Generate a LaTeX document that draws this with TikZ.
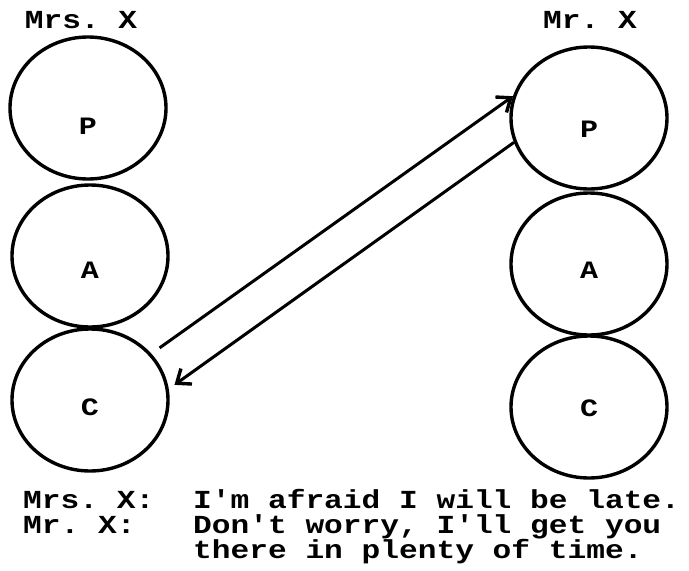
\documentclass[tikz,border=0pt]{standalone}
\usepackage{fontspec}
\setmonofont[FakeStretch=1.2]{Liberation Mono}
\usetikzlibrary{arrows.meta,shapes.geometric}
\tikzset{
  egostate/.style={ellipse, draw=black, line width=3.4pt, minimum width=156pt, minimum height=142pt, inner sep=0pt},
  letter/.style={font=\ttfamily\bfseries\fontsize{25}{25}\selectfont, inner sep=0pt},
  person/.style={font=\ttfamily\bfseries\fontsize{26}{25}\selectfont, inner sep=0pt, anchor=base},
  speech/.style={font=\ttfamily\bfseries\fontsize{26}{25}\selectfont, inner sep=0pt, anchor=base west},
  arrow/.style={-{Straight Barb[length=12pt, width=19pt, line width=3.4pt]}, line width=3pt}
}

\begin{document}
\begin{tikzpicture}[x=1pt, y=-1pt]
  \useasboundingbox (0,0) rectangle (689,571);
  % the two people, each a stack of P, A and C
  \node[person] (mrs) at (81,28) {Mrs. X};
  \node[person] (mr) at (590,28) {Mr. X};
  \node[egostate, label={[letter, yshift=-18pt]center:P}] (mrsP) at (88,108) {};
  \node[egostate, label={[letter, yshift=-14pt]center:A}] (mrsA) at (90,256) {};
  \node[egostate, label={[letter, yshift=-7pt]center:C}] (mrsC) at (90,400) {};
  \node[egostate, label={[letter, yshift=-11pt]center:P}] (mrP) at (589,118) {};
  \node[egostate, label={[letter, yshift=-6pt]center:A}] (mrA) at (589,264) {};
  \node[egostate, label={[letter, yshift=-1pt]center:C}] (mrC) at (589,407) {};
  % the exchange
  \draw[arrow, shorten <=10pt] (mrsC.37) -- (mrP.164);
  \draw[arrow, shorten >=7pt] (mrP.198) -- (mrsC.8);
  % the dialogue
  \node[speech] (who1) at (23,508) {Mrs. X:};
  \node[speech] (who2) at (23,533) {Mr. X:};
  \node[speech] (say1) at (193,508) {I'm afraid I will be late.};
  \node[speech] (say2) at (193,533) {Don't worry, I'll get you};
  \node[speech] (say3) at (193,558) {there in plenty of time.};
\end{tikzpicture}
\end{document}
